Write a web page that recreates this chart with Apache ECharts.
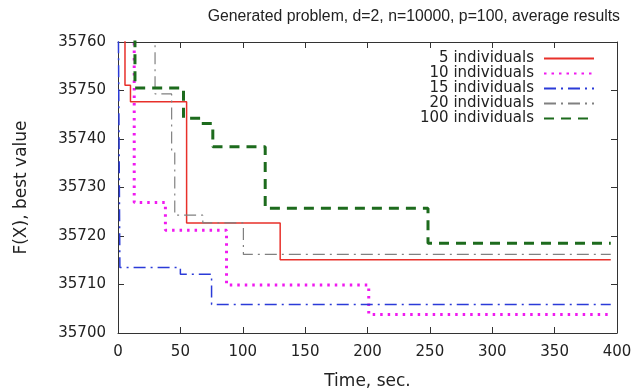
<!DOCTYPE html>
<html><head><meta charset="utf-8">
<script src="https://cdn.jsdelivr.net/npm/echarts@6/dist/echarts.min.js"></script>
<style>html,body{margin:0;padding:0;background:#fff}#c{width:634px;height:390px}</style>
</head><body><div id="c"></div>
<script>
const xTicks = [0, 50, 100, 150, 200, 250, 300, 350, 400];
const yTicks = [35700, 35710, 35720, 35730, 35740, 35750, 35760];
const seriesNames = ['5 individuals', '10 individuals', '15 individuals', '20 individuals', '100 individuals'];
const x5 = [0, 5.6, 10, 55, 130, 395];
const y5 = [35775, 35751.1, 35747.7, 35722.7, 35715.1, 35715.1];
const x10 = [0, 13, 38, 87, 201, 395];
const y10 = [35775, 35726.9, 35721.2, 35709.9, 35703.8, 35703.8];
const x15 = [0, 1.5, 50, 75, 395];
const y15 = [35775, 35713.5, 35712.1, 35705.9, 35705.9];
const x20 = [0, 29.7, 43, 45.5, 68, 100.5, 395];
const y20 = [35775, 35749.3, 35737.5, 35724.3, 35722.7, 35716.2, 35716.2];
const x100 = [0, 13.6, 52.5, 66, 76, 118, 248.5, 395];
const y100 = [35775, 35750.5, 35744.3, 35743.2, 35738.4, 35725.7, 35718.5, 35718.5];

const xs = [x5, x10, x15, x20, x100];
const ys = [y5, y10, y15, y20, y100];
const styles = [
  {color: '#e8302a', width: 1.5, type: 'solid'},
  {color: '#f01af0', width: 3, type: [2.5, 5]},
  {color: '#2b3bd8', width: 1.5, type: [12, 5, 2, 5]},
  {color: '#808080', width: 1.2, type: [12, 5, 2, 5]},
  {color: '#1d6b1d', width: 3, type: [10, 7]}
];
const FONT = 'DejaVu Sans, sans-serif';
const series = seriesNames.map((n, i) => ({
  name: n, type: 'line', step: 'end', symbol: 'none', clip: true,
  data: xs[i].map((x, j) => [x, ys[i][j]]),
  lineStyle: styles[i], itemStyle: {color: styles[i].color}
}));
const chart = echarts.init(document.getElementById('c'), null, {renderer: 'canvas'});
const axLine = {show: true, onZero: false, lineStyle: {color: '#333', width: 1}};
const tick = {inside: true, length: 6, lineStyle: {color: '#333'}};
chart.setOption({
  animation: false,
  title: {text: 'Generated problem, d=2, n=10000, p=100, average results', right: 9, top: 4,
    textStyle: {fontFamily: 'Liberation Sans, Arial, sans-serif', fontSize: 15.8, fontWeight: 'normal', color: '#222'}},
  legend: {orient: 'vertical', right: 39, top: 51, align: 'right', padding: 0,
    itemWidth: 50, itemHeight: 10, itemGap: 0,
    itemStyle: {opacity: 0},
    textStyle: {fontFamily: FONT, fontSize: 15, lineHeight: 15, color: '#222', padding: [0, 5, 0, 0]},
    data: seriesNames},
  grid: {left: 118, right: 17, top: 42, bottom: 57, containLabel: false, outerBoundsMode: 'none'},
  xAxis: [{type: 'value', min: 0, max: 400, interval: 50, position: 'bottom',
    name: 'Time, sec.', nameLocation: 'middle', nameGap: 40,
    nameTextStyle: {fontFamily: FONT, fontSize: 17, color: '#222'},
    axisLine: axLine, splitLine: {show: false}, axisTick: tick,
    axisLabel: {fontFamily: FONT, fontSize: 15, color: '#222', margin: 12,
      formatter: v => xTicks.includes(v) ? String(v) : ''}},
    {type: 'value', min: 0, max: 400, interval: 50, position: 'top',
    axisLine: axLine, splitLine: {show: false}, axisTick: tick, axisLabel: {show: false}}],
  yAxis: [{type: 'value', min: 35700, max: 35760, interval: 10, position: 'left',
    name: 'F(X), best value', nameLocation: 'middle', nameGap: 88, nameRotate: 90,
    nameTextStyle: {fontFamily: FONT, fontSize: 17, color: '#222'},
    axisLine: axLine, splitLine: {show: false}, axisTick: tick,
    axisLabel: {fontFamily: FONT, fontSize: 15, color: '#222', margin: 12,
      formatter: v => yTicks.includes(v) ? String(v) : ''}},
    {type: 'value', min: 35700, max: 35760, interval: 10, position: 'right',
    axisLine: axLine, splitLine: {show: false}, axisTick: tick, axisLabel: {show: false}}],
  series: series
});
</script></body></html>
